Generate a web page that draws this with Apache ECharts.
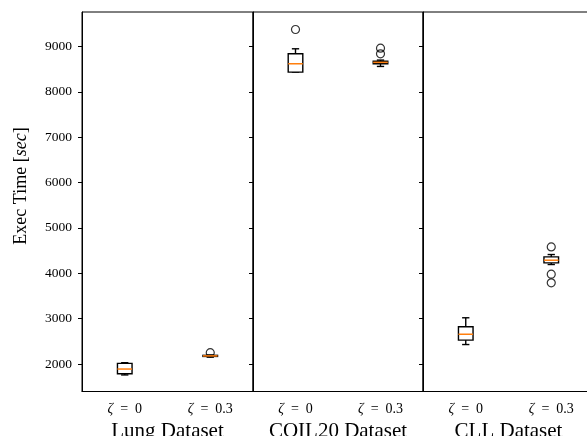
<!DOCTYPE html>
<html><head><meta charset="utf-8">
<script src="https://cdn.jsdelivr.net/npm/echarts@6/dist/echarts.min.js"></script>
<style>html,body{margin:0;padding:0;background:#fff}#c{width:587px;height:436px}</style>
</head><body><div id="c"></div>
<script>
// ---- data ----
const categories = ['0', '0.3'];            // zeta values
const datasets = ['Lung Dataset', 'COIL20 Dataset', 'CLL Dataset'];
const yTicks = [2000, 3000, 4000, 5000, 6000, 7000, 8000, 9000];
// [min, Q1, median, Q3, max] per category
const lungStats  = [[1760, 1787, 1890, 2015, 2030], [2152, 2168, 2180, 2192, 2200]];
const coilStats  = [[8435, 8435, 8619, 8839, 8949], [8560, 8619, 8650, 8676, 8700]];
const cllStats   = [[2430, 2528, 2657, 2821, 3020], [4194, 4230, 4289, 4362, 4414]];
// outliers: [categoryIndex, value]
const lungOut = [[1, 2250]];
const coilOut = [[0, 9374], [1, 8962], [1, 8839]];
const cllOut  = [[1, 4582], [1, 3980], [1, 3790]];

const allStats = [lungStats, coilStats, cllStats];
const allOut = [lungOut, coilOut, cllOut];

const serif = '"Liberation Serif", "DejaVu Serif", serif';
const yMin = 1395, yMax = 9760;

const grids = [
  {left: 82, width: 171, top: 12, height: 379.5},
  {left: 253, width: 170, top: 12, height: 379.5},
  {left: 423, width: 171, top: 12, height: 379.5}
].map(g => Object.assign({show: true, borderColor: '#000', borderWidth: 1, backgroundColor: 'transparent',
  containLabel: false, outerBoundsMode: 'none'}, g));

const xAxes = datasets.map((name, i) => ({
  type: 'category', gridIndex: i, data: categories, boundaryGap: true,
  name: name, nameLocation: 'middle', nameGap: 28,
  nameTextStyle: {fontFamily: serif, fontSize: 21, color: '#000'},
  axisLine: {lineStyle: {color: '#000', width: 1}},
  axisTick: {alignWithLabel: true, length: 4, lineStyle: {color: '#000'}},
  axisLabel: {
    margin: 11, color: '#000', fontFamily: serif, fontSize: 14, interval: 0, hideOverlap: false,
    formatter: v => '{i|ζ}\u2002=\u2002' + v,
    rich: {i: {fontFamily: serif, fontStyle: 'italic', fontSize: 14, color: '#000'}}
  },
  splitLine: {show: false}
}));

const yAxes = datasets.map((d, i) => ({
  type: 'value', gridIndex: i, min: yMin, max: yMax,
  axisLine: {show: true, lineStyle: {color: '#000', width: 1}},
  axisTick: {show: true, length: 4, lineStyle: {color: '#000'}, customValues: yTicks},
  axisLabel: {show: i === 0, margin: 10, color: '#000', fontFamily: serif, fontSize: 13.5,
    customValues: yTicks, formatter: v => String(v)},
  splitLine: {show: false}
}));

function renderBox(params, api) {
  const x = api.value(0);
  const mn = api.coord([x, api.value(1)]);
  const q1 = api.coord([x, api.value(2)]);
  const md = api.coord([x, api.value(3)]);
  const q3 = api.coord([x, api.value(4)]);
  const mx = api.coord([x, api.value(5)]);
  const cx = mn[0];
  const bw = 14.6, cw = 7.3;
  const st = {stroke: '#000', fill: 'none', lineWidth: 1.4};
  return {
    type: 'group',
    children: [
      {type: 'line', shape: {x1: cx, y1: q3[1], x2: cx, y2: mx[1]}, style: st},
      {type: 'line', shape: {x1: cx, y1: q1[1], x2: cx, y2: mn[1]}, style: st},
      {type: 'line', shape: {x1: cx - cw / 2, y1: mx[1], x2: cx + cw / 2, y2: mx[1]}, style: st},
      {type: 'line', shape: {x1: cx - cw / 2, y1: mn[1], x2: cx + cw / 2, y2: mn[1]}, style: st},
      {type: 'rect', shape: {x: cx - bw / 2, y: q3[1], width: bw, height: q1[1] - q3[1]}, style: {stroke: '#000', fill: '#fff', lineWidth: 1.4}},
      {type: 'line', shape: {x1: cx - bw / 2, y1: md[1], x2: cx + bw / 2, y2: md[1]}, style: {stroke: '#ff7f0e', lineWidth: 1.5}}
    ]
  };
}

const series = [];
allStats.forEach((stats, i) => {
  series.push({
    type: 'scatter', xAxisIndex: i, yAxisIndex: i,
    data: allOut[i], symbol: 'circle', symbolSize: 8,
    itemStyle: {color: 'rgba(255,255,255,0)', borderColor: '#000', borderWidth: 1.2},
    silent: true, z: 2
  });
  series.push({
    type: 'custom', xAxisIndex: i, yAxisIndex: i,
    data: stats.map((s, k) => [k].concat(s)),
    renderItem: renderBox, silent: true, z: 3,
    encode: {x: 0, y: [1, 2, 3, 4, 5]}
  });
});

const chart = echarts.init(document.getElementById('c'), null, {renderer: 'canvas'});
chart.setOption({
  animation: false,
  backgroundColor: '#fff',
  grid: grids, xAxis: xAxes, yAxis: yAxes, series: series,
  graphic: [{
    type: 'text', x: 21, y: 186, rotation: Math.PI / 2,
    style: {
      text: 'Exec Time [{i|sec}]', fill: '#000', font: '18px ' + serif,
      align: 'center', verticalAlign: 'middle',
      rich: {i: {fontFamily: serif, fontStyle: 'italic', fontSize: 18, fill: '#000'}}
    }
  }]
});
</script>
</body></html>
